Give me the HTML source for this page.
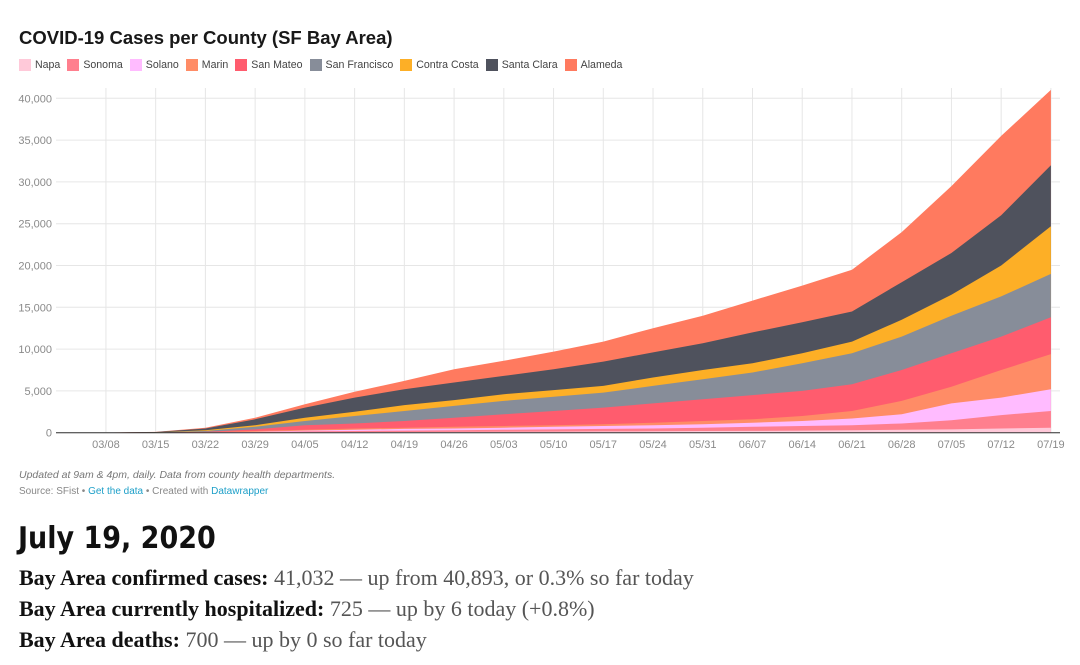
<!DOCTYPE html>
<html><head><meta charset="utf-8"><style>
body{margin:0;width:1080px;height:665px;background:#fff;font-family:"Liberation Sans",sans-serif;position:relative;overflow:hidden}
.a{position:absolute;white-space:nowrap}
#title{left:19px;top:27px;font-size:18.5px;font-weight:bold;color:#181818}
#legend{left:19px;top:59px;font-size:10.6px;color:#444;display:flex;gap:7px}
#legend span{display:flex;align-items:center}
#legend i{display:inline-block;width:12px;height:12px;margin-right:4px}
.n1{left:19px;top:469px;font-size:10.5px;font-style:italic;color:#777}
.n2{left:19px;top:486px;font-size:10px;color:#888}
.n2 b{font-weight:normal;color:#1d9fc8}
#date{left:18px;top:521px;font-size:30px;font-weight:bold;color:#111;font-family:"DejaVu Sans Condensed","DejaVu Sans",sans-serif}
.st{left:19px;font-family:"Liberation Serif",serif;font-size:22px;color:#555}
.st b{color:#111}
</style></head><body>
<div class="a" id="title">COVID-19 Cases per County (SF Bay Area)</div>
<div class="a" id="legend"></div>
<svg id="chart" width="1080" height="465" style="position:absolute;left:0;top:0"></svg>
<div class="a n1">Updated at 9am &amp; 4pm, daily. Data from county health departments.</div>
<div class="a n2">Source: SFist • <b>Get the data</b> • Created with <b>Datawrapper</b></div>
<div class="a" id="date">July 19, 2020</div>
<div class="a st" style="top:565px"><b>Bay Area confirmed cases:</b> 41,032 — up from 40,893, or 0.3% so far today</div>
<div class="a st" style="top:596px"><b>Bay Area currently hospitalized:</b> 725 — up by 6 today (+0.8%)</div>
<div class="a st" style="top:627px"><b>Bay Area deaths:</b> 700 — up by 0 so far today</div>
<script>
const dates=["03/01","03/08","03/15","03/22","03/29","04/05","04/12","04/19","04/26","05/03","05/10","05/17","05/24","05/31","06/07","06/14","06/21","06/28","07/05","07/12","07/19"];
const counties=["Napa","Sonoma","Solano","Marin","San Mateo","San Francisco","Contra Costa","Santa Clara","Alameda"];
const colors=["#ffc9d9","#ff7f8e","#ffbbff","#ff8c66","#ff5c6e","#878d99","#fdaf26","#4f525d","#ff7a5f"];
// cumulative stack tops (cases) per county, weekly
const napaTop=[0,0,0,10,20,50,70,80,100,120,130,150,170,200,220,250,300,350,400,500,600];
const sonomaTop=[0,0,0,20,50,150,200,250,300,350,400,450,500,600,700,800,900,1100,1500,2100,2600];
const solanoTop=[0,0,0,30,100,250,350,450,500,600,700,800,900,1000,1200,1400,1700,2200,3500,4200,5200];
const marinTop=[0,0,0,50,200,350,500,600,700,800,900,1000,1200,1400,1600,2000,2600,3800,5500,7500,9400];
const sanMateoTop=[0,0,10,100,400,900,1100,1400,1800,2200,2600,3000,3500,4000,4500,5000,5800,7500,9500,11500,13800];
const sfTop=[0,0,30,200,700,1400,2000,2600,3200,3800,4300,4800,5600,6400,7200,8300,9500,11500,14000,16300,19000];
const contraCostaTop=[0,0,40,300,900,1800,2500,3300,3900,4600,5100,5600,6600,7500,8300,9500,10900,13500,16500,20000,24700];
const santaClaraTop=[0,0,80,500,1600,3000,4200,5200,6000,6800,7600,8500,9600,10700,12000,13200,14500,18000,21500,26000,32000];
const alamedaTop=[0,10,100,600,1800,3400,4900,6200,7600,8600,9700,10900,12500,14000,15800,17600,19500,24000,29500,35500,41000];
const tops=[napaTop,sonomaTop,solanoTop,marinTop,sanMateoTop,sfTop,contraCostaTop,santaClaraTop,alamedaTop];
const yTicks=[0,5000,10000,15000,20000,25000,30000,35000,40000];
const yTickLabels=["0","5,000","10,000","15,000","20,000","25,000","30,000","35,000","40,000"];

const NS="http://www.w3.org/2000/svg";
const svg=document.getElementById('chart');
const x0=56.2,pxDay=7.105,y0=432.7,pxPer=8.36/1000;
const X=i=>x0+i*7*pxDay;
const Y=v=>y0-v*pxPer;
function mk(t,a){const e=document.createElementNS(NS,t);for(const k in a)e.setAttribute(k,a[k]);svg.appendChild(e);return e;}
yTicks.forEach((v,i)=>{
  const l=mk('line',{x1:56,x2:1060,y1:Y(v),y2:Y(v),stroke:'#e6e6e6','stroke-width':1});
  
  
  const t=mk('text',{x:52,y:Y(v)+4,'text-anchor':'end','font-size':11,fill:'#8a8a8a','font-family':'Liberation Sans, sans-serif'});
  t.textContent=yTickLabels[i];
  
  
});
dates.forEach((d,i)=>{
  if(i===0)return;
  const l=mk('line',{x1:X(i),x2:X(i),y1:88,y2:y0,stroke:'#e6e6e6','stroke-width':1});
  
  
  const t=mk('text',{x:X(i),y:448,'text-anchor':'middle','font-size':11,fill:'#8a8a8a','font-family':'Liberation Sans, sans-serif'});
  t.textContent=d;
  
  
});
for(let c=tops.length-1;c>=0;c--){
  const top=tops[c];
  let p='M'+X(0)+','+y0;
  top.forEach((v,i)=>{p+='L'+X(i).toFixed(1)+','+Y(v).toFixed(1);});
  p+='L'+X(top.length-1)+','+y0+'Z';
  const e=mk('path',{d:p,fill:colors[c]});
  
  
}
const ax=mk('line',{x1:56,x2:1060,y1:y0,y2:y0,stroke:'#333','stroke-width':1});


const lg=document.getElementById('legend');
counties.forEach((c,i)=>{
  const s=document.createElement('span');
  
  
  s.innerHTML='<i style="background:'+colors[i]+'"></i>'+c;
  lg.appendChild(s);
});
</script>
</body></html>
